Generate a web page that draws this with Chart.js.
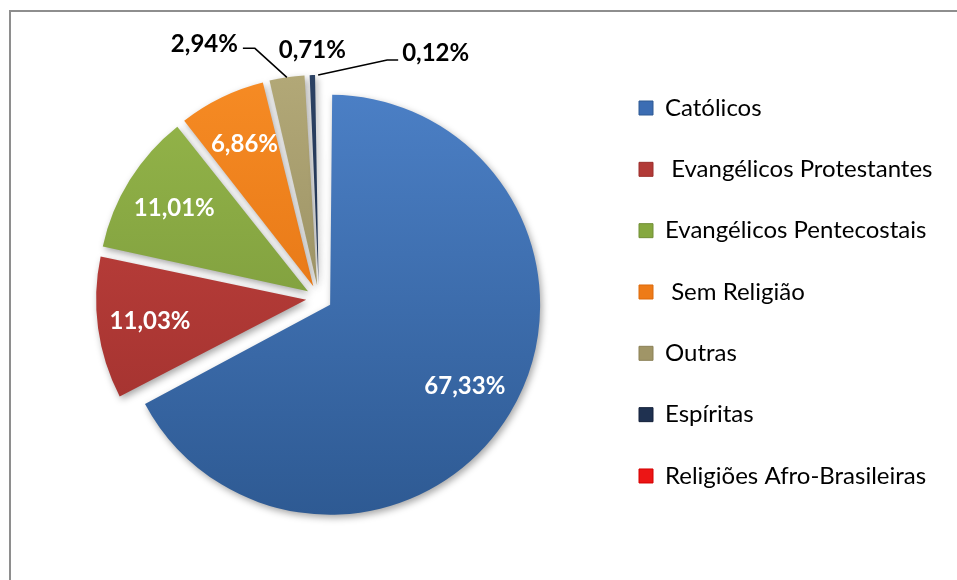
<!DOCTYPE html>
<html lang="pt-BR">
<head>
<meta charset="utf-8">
<title>Religiões</title>
<script src="https://cdn.jsdelivr.net/npm/chart.js@4.4.1/dist/chart.umd.min.js"></script>
<style>
  html, body { margin: 0; padding: 0; background: #fff; }
  #wrap { position: relative; width: 957px; height: 580px; overflow: hidden; }
  #moldura { position: absolute; left: 9px; top: 10px; width: 990px; height: 600px;
             border-top: 2px solid #8e8e8e; border-left: 2px solid #8e8e8e; }
  canvas { position: absolute; left: 0; top: 0; }
</style>
</head>
<body>
<div id="wrap">
  <div id="moldura"></div>
  <canvas id="grafico" width="957" height="580"></canvas>
</div>
<script>
// dados
const categorias = ['Católicos', ' Evangélicos Protestantes', 'Evangélicos Pentecostais', ' Sem Religião', 'Outras', 'Espíritas', 'Religiões Afro-Brasileiras'];
const percentuais = [67.33, 11.03, 11.01, 6.86, 2.94, 0.71, 0.12];

// cores (topo / base do gradiente, e cor da legenda)
const coresClaras = ['#4b7fc5', '#c4433f', '#95b64a', '#f68b24', '#b2a877', '#2c4264', '#ff2b2b'];
const coresEscuras = ['#2e5a93', '#9c2f2c', '#718f36', '#dc6a0c', '#8b8157', '#14213a', '#d40000'];
const coresLegenda = ['#3c6db3', '#b23a37', '#86a83f', '#ee7b18', '#a09567', '#1f3150', '#ec1515'];

const EXPLODE = 13;   // quanto cada fatia sai do centro
const RAIO = 210;
const FONTE_LEG = 24;
const PAD_LEG = 61.33 - FONTE_LEG;
const CAIXA = 14;

const fmt = v => v.toFixed(2).replace('.', ',') + '%';

// mede o maior texto da legenda para posicionar a coluna
const medidor = document.createElement('canvas').getContext('2d');
medidor.font = 'normal ' + FONTE_LEG + 'px Lato';
const maiorTexto = Math.max(...categorias.map(t => medidor.measureText(t).width));
const larguraLeg = PAD_LEG + CAIXA + FONTE_LEG / 2 + maiorTexto + 10;
const CAIXA_X = 639;
const LEG_ESQ = CAIXA_X - PAD_LEG;
const padDireita = 957 - LEG_ESQ - larguraLeg;
const padEsquerda = 2 * 319 - LEG_ESQ;
const padTopo = 108 - FONTE_LEG / 2 - PAD_LEG;
const padBase = 580 - (596 - padTopo);

// chart.js aumenta o raio das fatias com offset, aqui desfaz isso
const ajusteRaio = {
  id: 'ajusteRaio',
  afterDatasetUpdate(chart, args) {
    chart.getDatasetMeta(args.index).data.forEach(arc => {
      const fix = 1 - Math.sin(Math.min(Math.PI, arc.circumference));
      arc.outerRadius = RAIO - EXPLODE * fix;
    });
  }
};

const sombra = {
  id: 'sombra',
  beforeDatasetDraw(chart) {
    const c = chart.ctx;
    c.save();
    c.shadowColor = 'rgba(0,0,0,0.35)';
    c.shadowBlur = 7;
    c.shadowOffsetX = 2;
    c.shadowOffsetY = 3;
  },
  afterDatasetDraw(chart) {
    chart.ctx.restore();
  }
};

// guias das fatias pequenas: cotovelo, trecho horizontal e posição do texto
const guias = {
  4: { cot: [-32, -29], hor: -12, alinha: 'right', tx: -5, ty: -4 },
  5: null,
  6: { cot: [69, -15], hor: 11, alinha: 'left', tx: 4, ty: -7 }
};

const rotulos = {
  id: 'rotulos',
  afterDatasetsDraw(chart) {
    const c = chart.ctx;
    const arcs = chart.getDatasetMeta(0).data;
    c.save();
    c.font = 'bold 24px Lato';
    c.textBaseline = 'middle';
    arcs.forEach((arc, i) => {
      const meio = (arc.startAngle + arc.endAngle) / 2;
      const dx = Math.cos(meio), dy = Math.sin(meio);
      const ax = arc.x + dx * EXPLODE, ay = arc.y + dy * EXPLODE;
      const texto = fmt(percentuais[i]);
      if (percentuais[i] > 5) {
        c.fillStyle = '#fff';
        c.textAlign = 'center';
        c.fillText(texto, ax + dx * RAIO * 0.75, ay + dy * RAIO * 0.75);
        return;
      }
      const px = ax + dx * RAIO, py = ay + dy * RAIO;
      c.fillStyle = '#000';
      const g = guias[i];
      if (!g) {
        c.textAlign = 'center';
        c.fillText(texto, px, py - 25);
        return;
      }
      const cx = px + g.cot[0], cy = py + g.cot[1];
      const fx = cx + g.hor;
      c.strokeStyle = '#000';
      c.lineWidth = 1.5;
      c.beginPath();
      c.moveTo(px, py);
      c.lineTo(cx, cy);
      c.lineTo(fx, cy);
      c.stroke();
      c.textAlign = g.alinha;
      c.fillText(texto, fx + g.tx, cy + g.ty);
    });
    c.restore();
  }
};

Chart.defaults.font.family = 'Lato';

new Chart(document.getElementById('grafico'), {
  type: 'pie',
  data: {
    labels: categorias,
    datasets: [{
      data: percentuais,
      backgroundColor: ctx => {
        const area = ctx.chart.chartArea;
        const i = ctx.dataIndex;
        if (!area) return coresLegenda[i];
        const cy = (area.top + area.bottom) / 2;
        const grad = ctx.chart.ctx.createLinearGradient(0, cy - RAIO, 0, cy + RAIO);
        grad.addColorStop(0, coresClaras[i]);
        grad.addColorStop(1, coresEscuras[i]);
        return grad;
      },
      borderWidth: 0,
      offset: EXPLODE * 4,
      hoverOffset: 0
    }]
  },
  options: {
    responsive: false,
    animation: false,
    radius: RAIO,
    layout: {
      padding: { left: padEsquerda, right: padDireita, top: padTopo, bottom: padBase }
    },
    plugins: {
      tooltip: { enabled: false },
      legend: {
        position: 'right',
        align: 'start',
        labels: {
          boxWidth: CAIXA,
          boxHeight: CAIXA,
          padding: PAD_LEG,
          color: '#000',
          font: { family: 'Lato', size: FONTE_LEG },
          generateLabels: chart => categorias.map((t, i) => ({
            text: t,
            fillStyle: coresLegenda[i],
            strokeStyle: coresEscuras[i],
            lineWidth: 1,
            hidden: false,
            index: i,
            datasetIndex: 0
          }))
        }
      }
    },
    events: []
  },
  plugins: [ajusteRaio, sombra, rotulos]
});
</script>
</body>
</html>
